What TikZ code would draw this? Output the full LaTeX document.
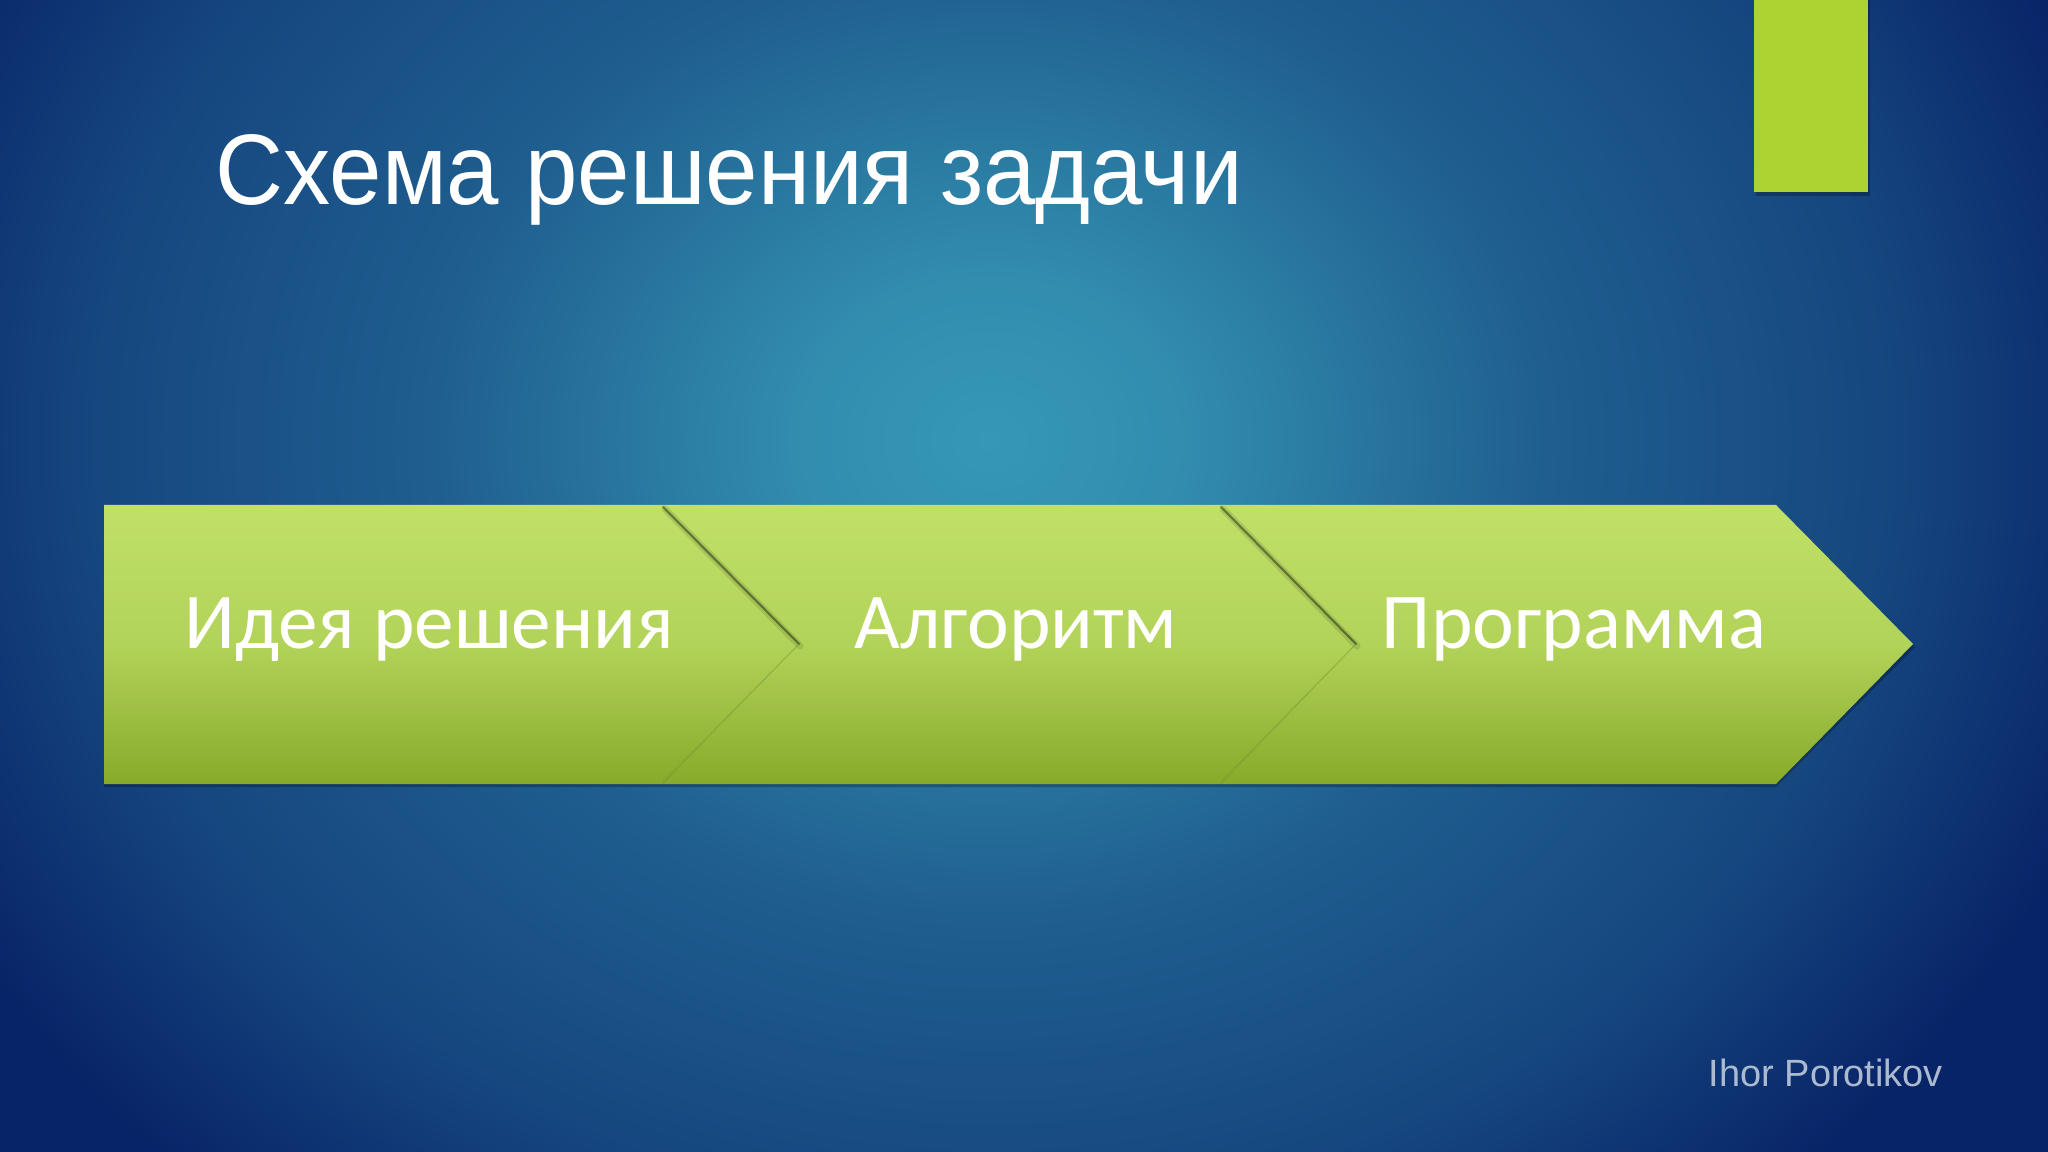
\documentclass[tikz,border=0pt]{standalone}
\usepackage{fontspec}
\setmainfont{Liberation Sans}
\newfontfamily\titlefont[FakeStretch=0.94]{Liberation Sans}
\newfontfamily\chevfont{Carlito}
\definecolor{navy}{RGB}{8,36,104}
\definecolor{sea}{RGB}{54,152,182}
\definecolor{limetop}{RGB}{192,224,104}
\definecolor{limebot}{RGB}{136,170,42}
\definecolor{lime}{RGB}{172,211,50}
\definecolor{signgray}{RGB}{172,186,208}
\pgfdeclareradialshading{glow}{\pgfpoint{0bp}{0bp}}{color(0bp)=(sea); color(3.5bp)=(sea!90!navy); color(10bp)=(sea!50!navy); color(16bp)=(navy!70!sea); color(21bp)=(navy); color(50bp)=(navy)}
\tikzset{
  stage/.style={top color=limetop, bottom color=limebot, middle color=limetop!75!limebot},
  stagetext/.style={text=white, anchor=base, font=\chevfont\fontsize{22.5}{27}\selectfont},
  drop/.style={fill=black, opacity=0.25}
}
\begin{document}
\begin{tikzpicture}[x=0.01cm,y=-0.01cm]
  \useasboundingbox (0,0) rectangle (2048,1152);
  \fill[navy] (0,0) rectangle (2048,1152);
  \begin{scope}
    \clip (0,0) rectangle (2048,1152);
    \shade[shading=glow] (-410,-760) rectangle (2390,1640);
  \end{scope}
  \fill[drop] (1756,0) rectangle (1870,196);
  \fill[lime] (1754,0) rectangle (1868,192);
  \node (title) at (215,205) [anchor=base west, inner sep=0, text=white,
    font=\titlefont\fontsize{28.5}{34}\selectfont] {Схема решения задачи};
  \fill[drop] (104,508) -- (1776,508) -- (1915,647) -- (1776,787) -- (104,787) -- cycle;
  \shade[stage] (1221,505) -- (1776,505) -- (1913,644) -- (1776,784)
    -- (1221,784) -- (1356,644) -- cycle;
  \shade[stage] (663,505) -- (1221,505) -- (1356,644) -- (1221,784)
    -- (663,784) -- (799,644) -- cycle;
  \shade[stage] (104,505) -- (663,505) -- (799,644) -- (663,784)
    -- (104,784) -- cycle;
  \begin{scope}[line cap=round]
    \draw[black, opacity=0.1, line width=2pt] (665,509) -- (800,646);
    \draw[black, opacity=0.1, line width=2pt] (1223,509) -- (1357,646);
    \draw[black, opacity=0.4, line width=0.6pt] (663,507) -- (799,644);
    \draw[black, opacity=0.4, line width=0.6pt] (1221,507) -- (1356,644);
    \draw[limebot!85!black, opacity=0.3, line width=0.4pt] (799,644) -- (663,782);
    \draw[limebot!85!black, opacity=0.3, line width=0.4pt] (1356,644) -- (1221,782);
  \end{scope}
  \node (idea) at (429,649) [stagetext] {Идея решения};
  \node (algo) at (1016,649) [stagetext] {Алгоритм};
  \node (prog) at (1574,649) [stagetext] {Программа};
  \node (author) at (1708,1086) [anchor=base west, inner sep=0, text=signgray,
    font=\fontsize{10.8}{13}\selectfont] {Ihor Porotikov};
\end{tikzpicture}
\end{document}
